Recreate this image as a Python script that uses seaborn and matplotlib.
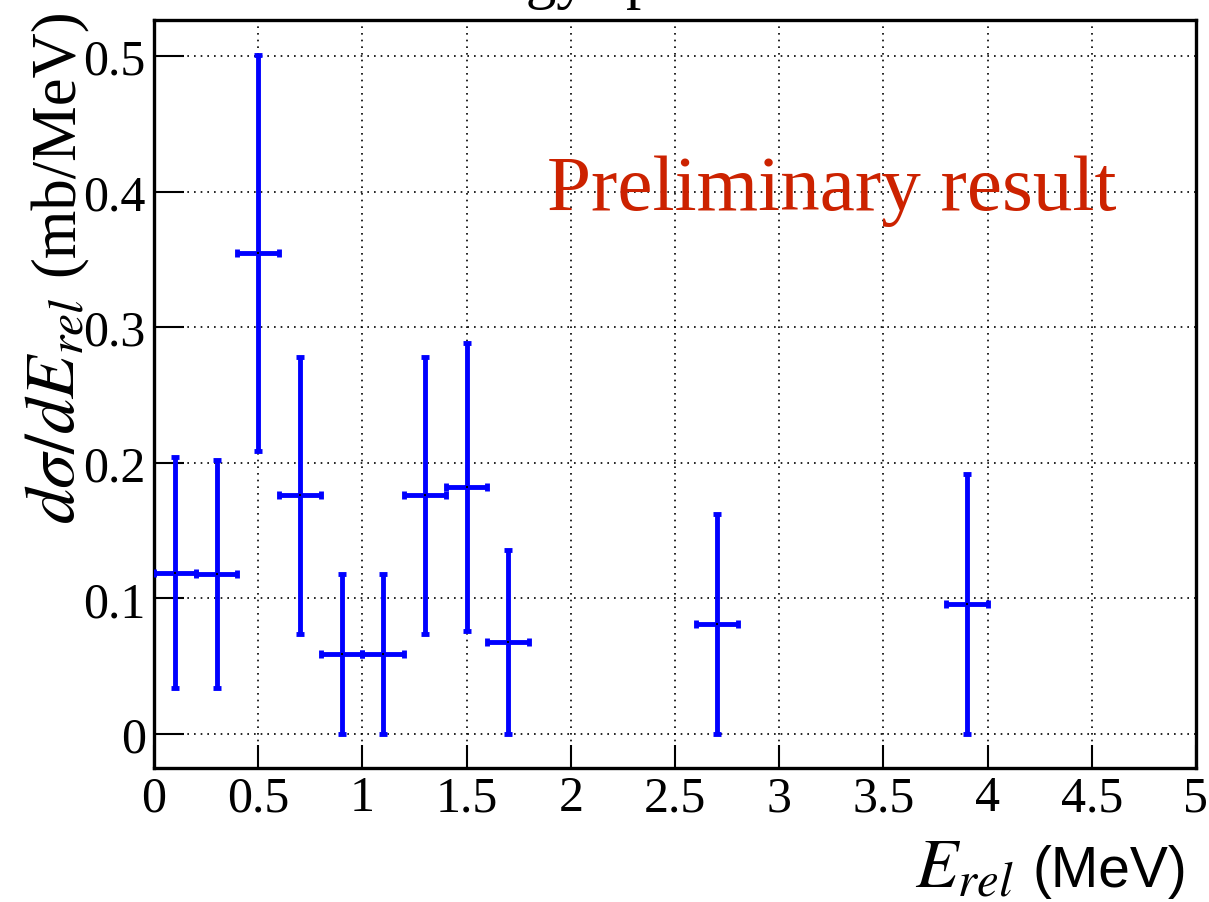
import matplotlib
matplotlib.use("Agg")
import matplotlib.pyplot as plt
import seaborn as sns
import pandas as pd
import numpy as np

# ---- data ----
e_rel = [0.1, 0.3, 0.5, 0.7, 0.9, 1.1, 1.3, 1.5, 1.7, 2.7, 3.9]
dsig = [0.119, 0.118, 0.355, 0.176, 0.059, 0.059, 0.176, 0.182, 0.068, 0.081, 0.096]
dsig_err = [0.085, 0.084, 0.146, 0.102, 0.059, 0.059, 0.102, 0.106, 0.068, 0.081, 0.096]
bin_halfwidth = [0.1] * len(e_rel)
x_ticks = [0, 0.5, 1, 1.5, 2, 2.5, 3, 3.5, 4, 4.5, 5]
x_ticklabels = ["0", "0.5", "1", "1.5", "2", "2.5", "3", "3.5", "4", "4.5", "5"]
y_ticks = [0, 0.1, 0.2, 0.3, 0.4, 0.5]
y_ticklabels = ["0", "0.1", "0.2", "0.3", "0.4", "0.5"]

df = pd.DataFrame({"E": e_rel, "dsig": dsig, "err": dsig_err, "xerr": bin_halfwidth})

sns.set_theme(style="white")
plt.rcParams["font.family"] = ["Liberation Serif", "DejaVu Serif"]
plt.rcParams["mathtext.fontset"] = "stix"
plt.rcParams["text.color"] = "black"
plt.rcParams["axes.labelcolor"] = "black"

W, H = 1209, 903
fig = plt.figure(figsize=(W / 100, H / 100), dpi=100)
ax = fig.add_axes([154 / W, 1 - 769 / H, (1196 - 154) / W, (769 - 21) / H])

ax.errorbar(df["E"], df["dsig"], yerr=df["err"], xerr=df["xerr"], fmt="none",
            ecolor="#0000ff", elinewidth=3.5, capsize=2.6, capthick=3.5, zorder=3)
sns.scatterplot(data=df, x="E", y="dsig", ax=ax, color="black", s=3,
                marker="s", linewidth=0, zorder=4, legend=False)

ax.set_xlim(0, 5)
ax.set_ylim(-0.0251, 0.5265)
ax.set_xticks(x_ticks)
ax.set_xticklabels(x_ticklabels)
ax.set_yticks(y_ticks)
ax.set_yticklabels(y_ticklabels)
ax.set_xticks(np.arange(0, 5.001, 0.1), minor=True)
ax.set_yticks(np.arange(-0.02, 0.5265, 0.02), minor=True)

ax.tick_params(axis="both", which="both", direction="in", colors="black",
               labelsize=36, width=1.5)
ax.tick_params(axis="x", which="major", length=16.5, pad=5)
ax.tick_params(axis="x", which="minor", length=8)
ax.tick_params(axis="y", which="major", length=21.5, pad=6)
ax.tick_params(axis="y", which="minor", length=11)
ax.tick_params(top=False, right=False, bottom=True, left=True)

ax.grid(True, which="major", color="black", linestyle=(0, (1, 3)), linewidth=1.2)
ax.set_axisbelow(True)
for sp in ax.spines.values():
    sp.set_visible(True)
    sp.set_color("black")
    sp.set_linewidth(2.4)

ax.set_xlabel("")
ax.set_ylabel("")


def fx(px):
    return (px - 154) / 1042


def fy(py):
    return (769 - py) / 748


# y axis title: italic math part + upright unit part
ax.text(fx(74), fy(8), "(mb/MeV)", transform=ax.transAxes, fontsize=45,
        rotation=90, rotation_mode="anchor", ha="right", va="baseline")
ax.text(fx(74), fy(298), r"$d\sigma/dE_{rel}$", transform=ax.transAxes, fontsize=51,
        rotation=90, rotation_mode="anchor", ha="right", va="baseline")

# x axis title
ax.text(fx(1187), fy(887), "(MeV)", transform=ax.transAxes, fontsize=41,
        family=["Liberation Sans", "DejaVu Sans"], ha="right", va="baseline")
ax.text(fx(1014), fy(887), r"$E_{rel}$", transform=ax.transAxes, fontsize=50,
        ha="right", va="baseline")

ax.text(fx(547), fy(210), "Preliminary result",
        transform=ax.transAxes, fontsize=57, color="#cc2200",
        ha="left", va="baseline")

# Title, mostly cropped at the top edge of the figure
title = "Relative energy spectrum"
prefix = "Relative ener"
fig.canvas.draw()
r = fig.canvas.get_renderer()
tmp = fig.text(0, 0, prefix, fontsize=44)
wpre = tmp.get_window_extent(renderer=r).width
tmp.remove()
fig.text((527 - wpre) / W, 1 + 3 / H, title, fontsize=44, ha="left", va="baseline")

fig.savefig("out.png", dpi=100, facecolor="white")
